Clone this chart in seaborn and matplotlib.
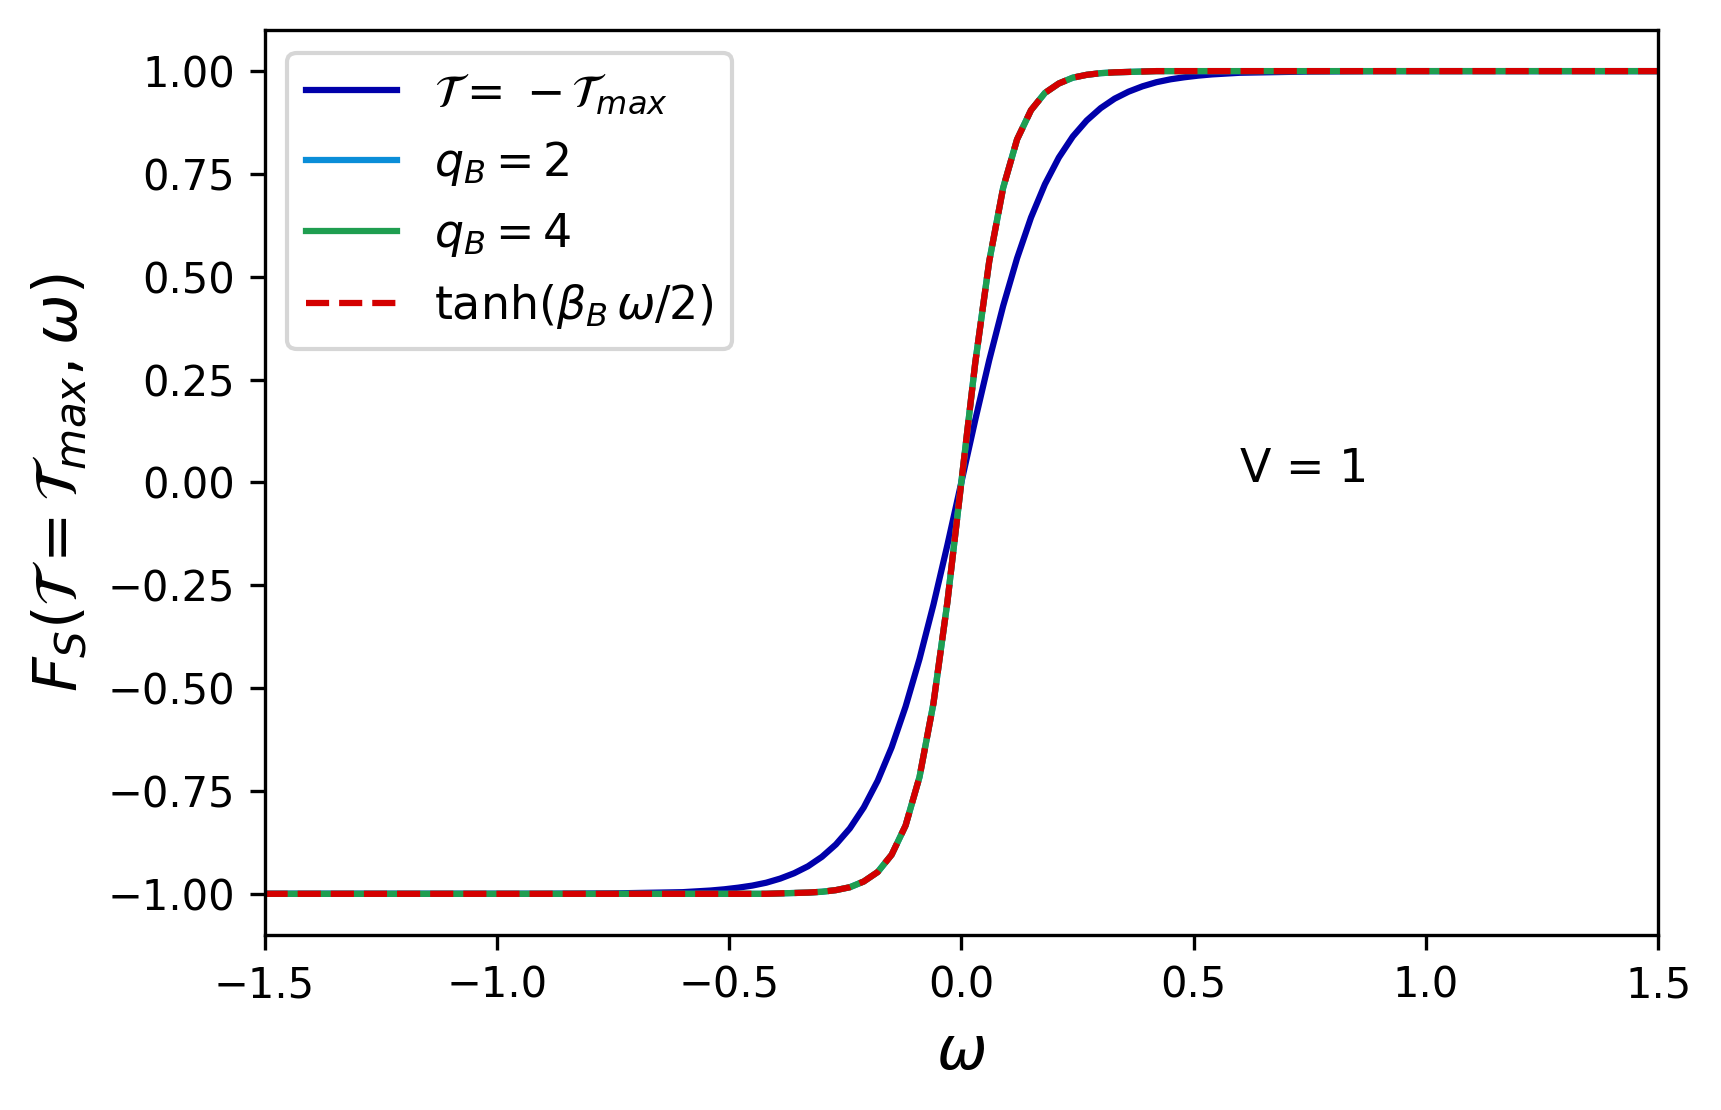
import matplotlib
matplotlib.use('Agg')
import matplotlib.pyplot as plt
import seaborn as sns
import pandas as pd

# omega grid (fine around zero, coarse in the flat tails)
omega = [-1.5, -1.2, -0.9, -0.75,
         -0.60, -0.57, -0.54, -0.51, -0.48, -0.45, -0.42, -0.39, -0.36, -0.33,
         -0.30, -0.27, -0.24, -0.21, -0.18, -0.15, -0.12, -0.09, -0.06, -0.03,
         0.0,
         0.03, 0.06, 0.09, 0.12, 0.15, 0.18, 0.21, 0.24, 0.27, 0.30,
         0.33, 0.36, 0.39, 0.42, 0.45, 0.48, 0.51, 0.54, 0.57, 0.60,
         0.75, 0.9, 1.2, 1.5]

# T = -T_max
fs_tmax = [-1.0, -1.0, -1.0, -0.999,
           -0.996, -0.994, -0.992, -0.989, -0.985, -0.980, -0.973, -0.963, -0.950, -0.933,
           -0.910, -0.880, -0.841, -0.790, -0.725, -0.644, -0.545, -0.429, -0.297, -0.152,
           0.0,
           0.152, 0.297, 0.429, 0.545, 0.644, 0.725, 0.790, 0.841, 0.880, 0.910,
           0.933, 0.950, 0.963, 0.973, 0.980, 0.985, 0.989, 0.992, 0.994, 0.996,
           0.999, 1.0, 1.0, 1.0]

# q_B = 2, q_B = 4 and tanh(beta_B w / 2) lie on top of each other
fs_q2 = [-1.0, -1.0, -1.0, -1.0,
         -1.0, -1.0, -1.0, -1.0, -1.0, -1.0, -1.0, -0.999, -0.998, -0.997,
         -0.995, -0.991, -0.984, -0.970, -0.947, -0.905, -0.834, -0.716, -0.537, -0.291,
         0.0,
         0.291, 0.537, 0.716, 0.834, 0.905, 0.947, 0.970, 0.984, 0.991, 0.995,
         0.997, 0.998, 0.999, 1.0, 1.0, 1.0, 1.0, 1.0, 1.0, 1.0,
         1.0, 1.0, 1.0, 1.0]
fs_q4 = list(fs_q2)
fs_tanh = list(fs_q2)

df = pd.DataFrame({'omega': omega, 'tmax': fs_tmax, 'q2': fs_q2,
                   'q4': fs_q4, 'tanh': fs_tanh})

fig, ax = plt.subplots(figsize=(5.737, 3.7), dpi=300)
fig.subplots_adjust(left=0.1537, right=0.9634, bottom=0.1577, top=0.973)

sns.lineplot(data=df, x='omega', y='tmax', color='#0000aa', lw=1.5,
             label=r'$\mathcal{T}=\;{-}\,\mathcal{T}_{max}$', ax=ax)
sns.lineplot(data=df, x='omega', y='q2', color='#0a8ed8', lw=1.5,
             label=r'$q_B=2$', ax=ax)
sns.lineplot(data=df, x='omega', y='q4', color='#1f9e50', lw=1.5,
             label=r'$q_B=4$', ax=ax)
sns.lineplot(data=df, x='omega', y='tanh', color='#d40000', lw=1.5,
             linestyle='--', label=r'$\tanh(\beta_B\,\omega/2)$', ax=ax)

ax.set_xlim(-1.5, 1.5)
ax.set_ylim(-1.1, 1.1)
ax.set_yticks([-1.0, -0.75, -0.5, -0.25, 0.0, 0.25, 0.5, 0.75, 1.0])
ax.tick_params(labelsize=10)
ax.set_xlabel(r'$\omega$', fontsize=14.5)
ax.set_ylabel(r'$F_S(\mathcal{T}=\mathcal{T}_{max},\omega)$', fontsize=14.5)
ax.text(0.6, 0.0, 'V = 1', fontsize=11)
ax.legend(loc='upper left', fontsize=11)

plt.savefig('out.png', dpi=300)
